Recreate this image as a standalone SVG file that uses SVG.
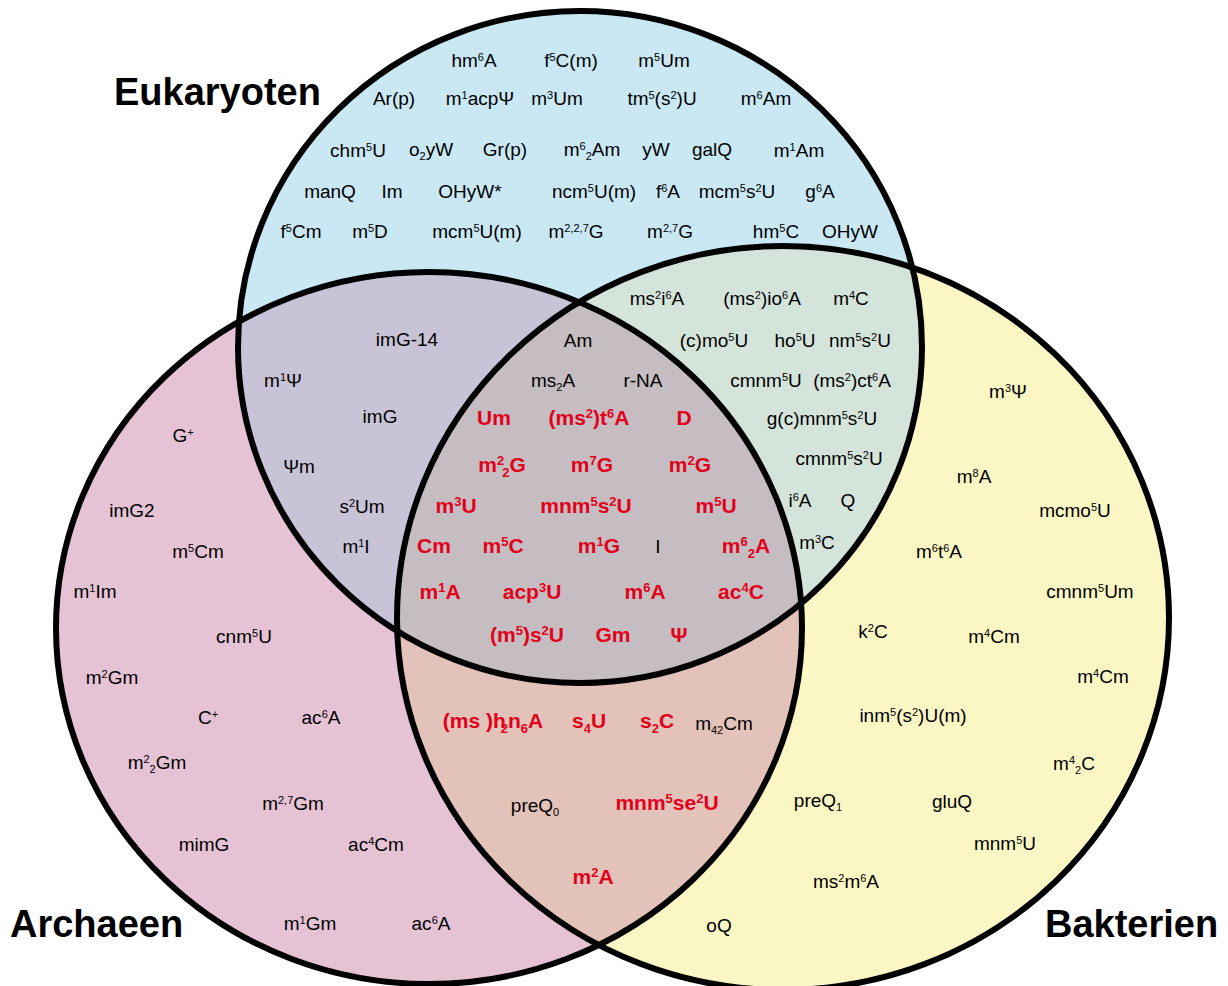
<svg xmlns="http://www.w3.org/2000/svg" xmlns:xlink="http://www.w3.org/1999/xlink" width="1228" height="986" viewBox="0 0 1228 986">
<style>
text{font-family:"Liberation Sans",Arial,sans-serif}
.t{font-size:19px;fill:#000;text-anchor:middle}
.r{font-size:21px;font-weight:bold;fill:#E2001A;text-anchor:middle}
.h{font-size:38px;font-weight:bold;fill:#000}
.s{font-size:11px;baseline-shift:6px}
.b{font-size:11px;baseline-shift:-4px}
.rs{font-size:13px;baseline-shift:7px}
.rb{font-size:13px;baseline-shift:-5px}
.ol{fill:none;stroke:#000;stroke-width:6}
</style>
<defs>
<ellipse id="E" cx="580" cy="347" rx="342" ry="336"/>
<ellipse id="A" cx="429" cy="628" rx="373" ry="356"/>
<ellipse id="B" cx="783" cy="618" rx="386" ry="372"/>
<clipPath id="cE"><use href="#E"/></clipPath>
<clipPath id="cA"><use href="#A"/></clipPath>
</defs>
<rect width="1228" height="986" fill="#fff"/>
<g id="fills">
<use href="#E" fill="#C9E8F4"/>
<use href="#A" fill="#E5C3D5"/>
<use href="#B" fill="#FBF7C5"/>
<use href="#A" fill="#C8C3D6" clip-path="url(#cE)"/>
<use href="#B" fill="#D5E4DA" clip-path="url(#cE)"/>
<use href="#B" fill="#E3C2B9" clip-path="url(#cA)"/>
<g clip-path="url(#cE)"><use href="#B" fill="#C5BDC1" clip-path="url(#cA)"/></g>
</g>
<g id="set-eukaryoten"><use href="#E" class="ol"/><text class="h" x="114" y="105">Eukaryoten</text></g>
<g id="set-archaeen"><use href="#A" class="ol"/><text class="h" x="10" y="937">Archaeen</text></g>
<g id="set-bakterien"><use href="#B" class="ol"/><text class="h" x="1045" y="937">Bakterien</text></g>

<g id="region-eukaryoten">
<text class="t" x="474" y="67">hm<tspan class="s">6</tspan>A</text>
<text class="t" x="571" y="67">f<tspan class="s">5</tspan>C(m)</text>
<text class="t" x="664" y="67">m<tspan class="s">5</tspan>Um</text>
<text class="t" x="394" y="105">Ar(p)</text>
<text class="t" x="480" y="105">m<tspan class="s">1</tspan>acpΨ</text>
<text class="t" x="557" y="105">m<tspan class="s">3</tspan>Um</text>
<text class="t" x="662" y="105">tm<tspan class="s">5</tspan>(s<tspan class="s">2</tspan>)U</text>
<text class="t" x="766" y="105">m<tspan class="s">6</tspan>Am</text>
<text class="t" x="358" y="157">chm<tspan class="s">5</tspan>U</text>
<text class="t" x="431" y="156">o<tspan class="b">2</tspan>yW</text>
<text class="t" x="505" y="156">Gr(p)</text>
<text class="t" x="592" y="156">m<tspan class="s">6</tspan><tspan class="b">2</tspan>Am</text>
<text class="t" x="656" y="156">yW</text>
<text class="t" x="712" y="156">galQ</text>
<text class="t" x="799" y="157">m<tspan class="s">1</tspan>Am</text>
<text class="t" x="330" y="198">manQ</text>
<text class="t" x="392" y="198">Im</text>
<text class="t" x="470" y="198">OHyW*</text>
<text class="t" x="594" y="198">ncm<tspan class="s">5</tspan>U(m)</text>
<text class="t" x="668" y="198">f<tspan class="s">6</tspan>A</text>
<text class="t" x="737" y="198">mcm<tspan class="s">5</tspan>s<tspan class="s">2</tspan>U</text>
<text class="t" x="820" y="198">g<tspan class="s">6</tspan>A</text>
<text class="t" x="301" y="238">f<tspan class="s">5</tspan>Cm</text>
<text class="t" x="370" y="238">m<tspan class="s">5</tspan>D</text>
<text class="t" x="477" y="238">mcm<tspan class="s">5</tspan>U(m)</text>
<text class="t" x="576" y="238">m<tspan class="s">2,2,7</tspan>G</text>
<text class="t" x="670" y="238">m<tspan class="s">2,7</tspan>G</text>
<text class="t" x="776" y="238">hm<tspan class="s">5</tspan>C</text>
<text class="t" x="850" y="238">OHyW</text>
</g>

<g id="region-eukaryoten-bakterien">
<text class="t" x="657" y="305">ms<tspan class="s">2</tspan>i<tspan class="s">6</tspan>A</text>
<text class="t" x="762" y="305">(ms<tspan class="s">2</tspan>)io<tspan class="s">6</tspan>A</text>
<text class="t" x="851" y="305">m<tspan class="s">4</tspan>C</text>
<text class="t" x="714" y="347">(c)mo<tspan class="s">5</tspan>U</text>
<text class="t" x="795" y="347">ho<tspan class="s">5</tspan>U</text>
<text class="t" x="860" y="347">nm<tspan class="s">5</tspan>s<tspan class="s">2</tspan>U</text>
<text class="t" x="766" y="387">cmnm<tspan class="s">5</tspan>U</text>
<text class="t" x="852" y="387">(ms<tspan class="s">2</tspan>)ct<tspan class="s">6</tspan>A</text>
<text class="t" x="822" y="425">g(c)mnm<tspan class="s">5</tspan>s<tspan class="s">2</tspan>U</text>
<text class="t" x="839" y="465">cmnm<tspan class="s">5</tspan>s<tspan class="s">2</tspan>U</text>
<text class="t" x="800" y="507">i<tspan class="s">6</tspan>A</text>
<text class="t" x="848" y="507">Q</text>
<text class="t" x="817" y="549">m<tspan class="s">3</tspan>C</text>
</g>

<g id="region-eukaryoten-archaeen">
<text class="t" x="407" y="346">imG-14</text>
<text class="t" x="283" y="387">m<tspan class="s">1</tspan>Ψ</text>
<text class="t" x="380" y="423">imG</text>
<text class="t" x="299" y="473">Ψm</text>
<text class="t" x="362" y="513">s<tspan class="s">2</tspan>Um</text>
<text class="t" x="356" y="553">m<tspan class="s">1</tspan>I</text>
</g>

<g id="region-archaeen">
<text class="t" x="183" y="442">G<tspan class="s">+</tspan></text>
<text class="t" x="132" y="517">imG2</text>
<text class="t" x="198" y="558">m<tspan class="s">5</tspan>Cm</text>
<text class="t" x="95" y="598">m<tspan class="s">1</tspan>Im</text>
<text class="t" x="244" y="643">cnm<tspan class="s">5</tspan>U</text>
<text class="t" x="112" y="684">m<tspan class="s">2</tspan>Gm</text>
<text class="t" x="208" y="724">C<tspan class="s">+</tspan></text>
<text class="t" x="321" y="724">ac<tspan class="s">6</tspan>A</text>
<text class="t" x="157" y="769">m<tspan class="s">2</tspan><tspan class="b">2</tspan>Gm</text>
<text class="t" x="293" y="810">m<tspan class="s">2,7</tspan>Gm</text>
<text class="t" x="204" y="851">mimG</text>
<text class="t" x="376" y="851">ac<tspan class="s">4</tspan>Cm</text>
<text class="t" x="310" y="930">m<tspan class="s">1</tspan>Gm</text>
<text class="t" x="431" y="930">ac<tspan class="s">6</tspan>A</text>
</g>

<g id="region-bakterien">
<text class="t" x="1008" y="398">m<tspan class="s">3</tspan>Ψ</text>
<text class="t" x="974" y="483">m<tspan class="s">8</tspan>A</text>
<text class="t" x="1075" y="517">mcmo<tspan class="s">5</tspan>U</text>
<text class="t" x="939" y="558">m<tspan class="s">6</tspan>t<tspan class="s">6</tspan>A</text>
<text class="t" x="1090" y="598">cmnm<tspan class="s">5</tspan>Um</text>
<text class="t" x="873" y="638">k<tspan class="s">2</tspan>C</text>
<text class="t" x="994" y="643">m<tspan class="s">4</tspan>Cm</text>
<text class="t" x="1103" y="683">m<tspan class="s">4</tspan>Cm</text>
<text class="t" x="913" y="722">inm<tspan class="s">5</tspan>(s<tspan class="s">2</tspan>)U(m)</text>
<text class="t" x="1074" y="770">m<tspan class="s">4</tspan><tspan class="b">2</tspan>C</text>
<text class="t" x="818" y="807">preQ<tspan class="b">1</tspan></text>
<text class="t" x="952" y="808">gluQ</text>
<text class="t" x="1005" y="850">mnm<tspan class="s">5</tspan>U</text>
<text class="t" x="846" y="888">ms<tspan class="s">2</tspan>m<tspan class="s">6</tspan>A</text>
<text class="t" x="719" y="932">oQ</text>
</g>

<g id="region-archaeen-bakterien">
<text class="r" x="493" y="728">(ms )h<tspan class="rb" dx="-5">2</tspan><tspan>n</tspan><tspan class="rb">6</tspan>A</text>
<text class="r" x="589" y="728">s<tspan class="rb">4</tspan>U</text>
<text class="r" x="657" y="728">s<tspan class="rb">2</tspan>C</text>
<text class="t" x="724" y="730">m<tspan class="b">42</tspan>Cm</text>
<text class="t" x="535" y="812">preQ<tspan class="b">0</tspan></text>
<text class="r" x="667" y="810">mnm<tspan class="rs">5</tspan>se<tspan class="rs">2</tspan>U</text>
<text class="r" x="593" y="884">m<tspan class="rs">2</tspan>A</text>
</g>

<g id="region-all">
<text class="t" x="578" y="347">Am</text>
<text class="t" x="553" y="387">ms<tspan class="b">2</tspan>A</text>
<text class="t" x="643" y="387">r-NA</text>
<text class="r" x="494" y="425">Um</text>
<text class="r" x="589" y="425">(ms<tspan class="rs">2</tspan>)t<tspan class="rs">6</tspan>A</text>
<text class="r" x="684" y="425">D</text>
<text class="r" x="502" y="472">m<tspan class="rs">2</tspan><tspan class="rb" dx="-2">2</tspan>G</text>
<text class="r" x="592" y="472">m<tspan class="rs">7</tspan>G</text>
<text class="r" x="690" y="472">m<tspan class="rs">2</tspan>G</text>
<text class="r" x="456" y="513">m<tspan class="rs">3</tspan>U</text>
<text class="r" x="586" y="513">mnm<tspan class="rs">5</tspan>s<tspan class="rs">2</tspan>U</text>
<text class="r" x="716" y="513">m<tspan class="rs">5</tspan>U</text>
<text class="r" x="434" y="553">Cm</text>
<text class="r" x="503" y="553">m<tspan class="rs">5</tspan>C</text>
<text class="r" x="599" y="553">m<tspan class="rs">1</tspan>G</text>
<text class="t" x="658" y="553">I</text>
<text class="r" x="746" y="553">m<tspan class="rs">6</tspan><tspan class="rb">2</tspan>A</text>
<text class="r" x="440" y="599">m<tspan class="rs">1</tspan>A</text>
<text class="r" x="532" y="599">acp<tspan class="rs">3</tspan>U</text>
<text class="r" x="645" y="599">m<tspan class="rs">6</tspan>A</text>
<text class="r" x="741" y="599">ac<tspan class="rs">4</tspan>C</text>
<text class="r" x="527" y="642">(m<tspan class="rs">5</tspan>)s<tspan class="rs">2</tspan>U</text>
<text class="r" x="613" y="642">Gm</text>
<text class="r" x="679" y="642">Ψ</text>
</g>
</svg>
